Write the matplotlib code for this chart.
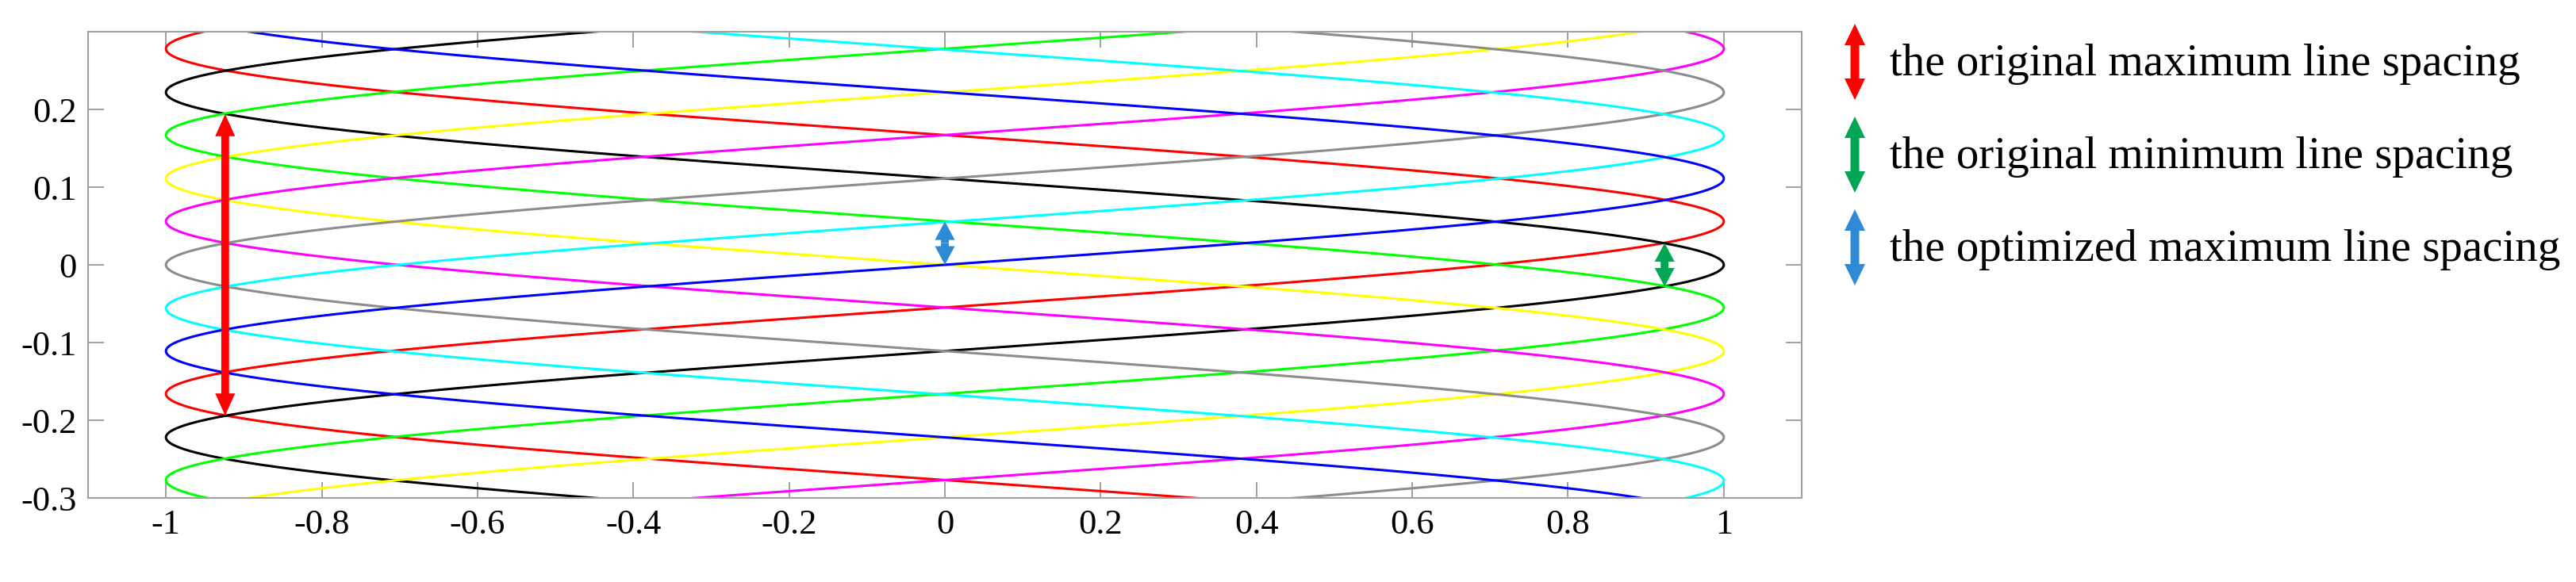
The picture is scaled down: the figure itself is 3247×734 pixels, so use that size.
import numpy as np
import matplotlib
matplotlib.use('Agg')
import matplotlib.pyplot as plt

plt.rcParams['font.family'] = ['Liberation Serif', 'DejaVu Serif']
plt.rcParams['axes.unicode_minus'] = False

# scan lines: colour of each line and the y where it turns at the left edge (x=-1)
line_colors = ['#ff0000', '#000000', '#00ff00', '#ffff00',
               '#ff00ff', '#8c8c8c', '#00ffff', '#0000ff']
left_turn_y = [0.278, 0.222, 0.167, 0.111, 0.056, 0.0, -0.056, -0.111]
sweep_rise = 0.222      # y gained by one sweep from one edge to the other
n_sweeps = 6

# spacing arrows drawn on the scan pattern
arrow_colors = ['#ff0000', '#00a651', '#2f8ad6']
arrow_x = [-0.924, 0.924, 0.0]
arrow_bottom = [-0.194, -0.028, 0.0]
arrow_top = [0.194, 0.028, 0.056]
arrow_labels = ['the original maximum line spacing',
                'the original minimum line spacing',
                'the optimized maximum line spacing']

xticks = [-1, -0.8, -0.6, -0.4, -0.2, 0, 0.2, 0.4, 0.6, 0.8, 1]
xtick_labels = ['-1', '-0.8', '-0.6', '-0.4', '-0.2', '0',
                '0.2', '0.4', '0.6', '0.8', '1']
yticks = [-0.3, -0.2, -0.1, 0, 0.1, 0.2]
ytick_labels = ['-0.3', '-0.2', '-0.1', '0', '0.1', '0.2']


def double_arrow(ax, x, y0, y1, color, shaft, head_w, head_l):
    """Two arrows from the middle outwards, looks like a <-> with fat heads"""
    mid = (y0 + y1) / 2.0
    for end in (y0, y1):
        ax.arrow(x, mid, 0, end - mid, width=shaft, head_width=head_w,
                 head_length=head_l, length_includes_head=True,
                 color=color, lw=0, zorder=10)


W, H = 3247, 734
fig = plt.figure(figsize=(W / 100, H / 100), dpi=100)
fig.patch.set_facecolor('white')

# main axes, placed in pixels
ax = fig.add_axes([111 / W, (H - 628) / H, 2160 / W, 588 / H])

s = np.linspace(-n_sweeps / 2, n_sweeps / 2, 6000)
for c, y0 in zip(line_colors, left_turn_y):
    ax.plot(-np.cos(np.pi * s), y0 + sweep_rise * s, color=c, lw=2.2)

for c, x, yb, yt in zip(arrow_colors, arrow_x, arrow_bottom, arrow_top):
    hl = min(0.0285, (yt - yb) / 2 - 0.004)
    double_arrow(ax, x, yb, yt, c, 0.0100, 0.0255, hl)

ax.set_xlim(-1.1, 1.1)
ax.set_ylim(-0.3, 0.3)
ax.set_xticks(xticks)
ax.set_xticklabels(xtick_labels)
ax.set_yticks(yticks)
ax.set_yticklabels(ytick_labels)
ax.tick_params(direction='in', length=14.4, width=1.4, color='#a0a0a0',
               top=True, right=True, labelsize=32, pad=10)
for sp in ax.spines.values():
    sp.set_color('#a0a0a0')
    sp.set_linewidth(1.5)

# legend drawn by hand in pixel units on the right
lax = fig.add_axes([0, 0, 1, 1])
lax.set_xlim(0, W)
lax.set_ylim(H, 0)
lax.axis('off')
leg_top = 30
leg_step = 117
for i, (c, lab) in enumerate(zip(arrow_colors, arrow_labels)):
    top = leg_top + i * leg_step
    double_arrow(lax, 2338, top, top + 96, c, 11, 26, 27)
    lax.text(2382, top + 65, lab, fontsize=41, va='baseline', ha='left')

fig.savefig('out.png', dpi=100, facecolor='white')
